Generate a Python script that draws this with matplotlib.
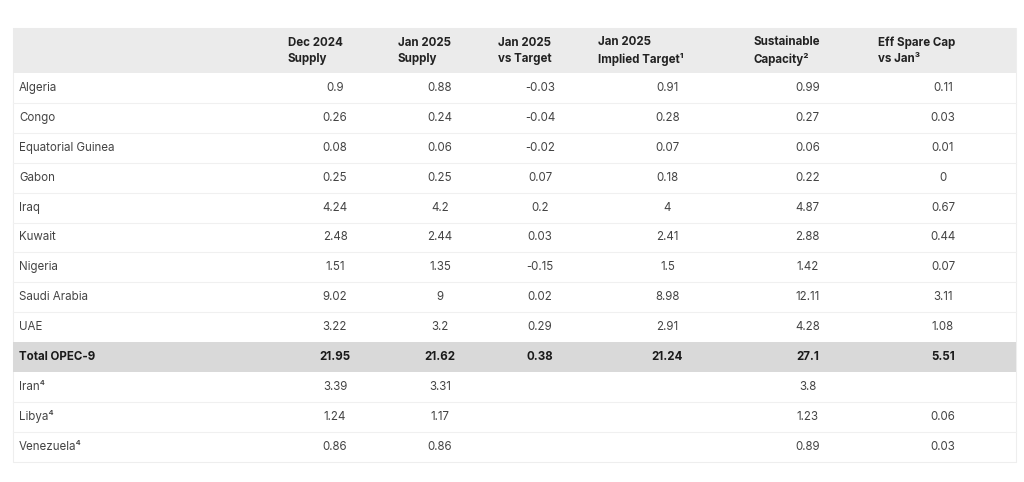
import matplotlib.pyplot as plt
from matplotlib.patches import Rectangle

plt.rcParams['font.family'] = ['Inter', 'DejaVu Sans']

headers = ["", "Dec 2024\nSupply", "Jan 2025\nSupply", "Jan 2025\nvs Target",
           "Jan 2025\nImplied Target\u00b9", "Sustainable\nCapacity\u00b2",
           "Eff Spare Cap\nvs Jan\u00b3"]

countries = ["Algeria", "Congo", "Equatorial Guinea", "Gabon", "Iraq", "Kuwait",
             "Nigeria", "Saudi Arabia", "UAE", "Total OPEC-9",
             "Iran\u2074", "Libya\u2074", "Venezuela\u2074"]
dec_2024 = ["0.9", "0.26", "0.08", "0.25", "4.24", "2.48", "1.51", "9.02", "3.22",
            "21.95", "3.39", "1.24", "0.86"]
jan_2025 = ["0.88", "0.24", "0.06", "0.25", "4.2", "2.44", "1.35", "9", "3.2",
            "21.62", "3.31", "1.17", "0.86"]
vs_target = ["-0.03", "-0.04", "-0.02", "0.07", "0.2", "0.03", "-0.15", "0.02", "0.29",
             "0.38", "", "", ""]
implied_target = ["0.91", "0.28", "0.07", "0.18", "4", "2.41", "1.5", "8.98", "2.91",
                  "21.24", "", "", ""]
sustainable = ["0.99", "0.27", "0.06", "0.22", "4.87", "2.88", "1.42", "12.11", "4.28",
               "27.1", "3.8", "1.23", "0.89"]
spare_cap = ["0.11", "0.03", "0.01", "0", "0.67", "0.44", "0.07", "3.11", "1.08",
             "5.51", "", "0.06", "0.03"]
total_row = 9

columns = [dec_2024, jan_2025, vs_target, implied_target, sustainable, spare_cap]

# column edges in pixels
edges = [13, 280, 390, 490, 590, 745, 870, 1016]
top, head_h, row_h = 28, 45, 29.9
fs = 8.3

fig = plt.figure(figsize=(10.24, 4.82), dpi=100)
ax = fig.add_axes([0, 0, 1, 1])
ax.set_xlim(0, 1024)
ax.set_ylim(482, 0)
ax.axis("off")

n = len(countries)
bottom = top + head_h + n * row_h

# faint shadow / border
ax.add_patch(Rectangle((edges[0] + 1, top + 1), edges[-1] - edges[0], bottom - top,
                       facecolor="#e9e9e9", edgecolor="none", zorder=0))
ax.add_patch(Rectangle((edges[0], top), edges[-1] - edges[0], bottom - top,
                       facecolor="white", edgecolor="#eeeeee", lw=0.8, zorder=1))

# header band
ax.add_patch(Rectangle((edges[0], top), edges[-1] - edges[0], head_h,
                       facecolor="#ebebeb", edgecolor="none", zorder=2))
for i, h in enumerate(headers):
    if h:
        ax.text(edges[i] + 8, top + head_h / 2 + 0.5, h, ha="left", va="center",
                fontsize=fs, fontweight="bold", color="#222222",
                linespacing=1.45, zorder=3)

for r in range(n):
    y0 = top + head_h + r * row_h
    yc = y0 + row_h / 2
    bold = r == total_row
    if bold:
        ax.add_patch(Rectangle((edges[0], y0), edges[-1] - edges[0], row_h,
                               facecolor="#d9d9d9", edgecolor="none", zorder=2))
    elif r > 0 and r != total_row + 1:
        ax.plot([edges[0], edges[-1]], [y0, y0], color="#f0f0f0", lw=0.8, zorder=2)
    weight = "bold" if bold else "normal"
    color = "#1a1a1a" if bold else "#444444"
    ax.text(edges[0] + 6, yc, countries[r], ha="left", va="center",
            fontsize=fs, fontweight=weight, color=color, zorder=3)
    for c, col in enumerate(columns):
        xc = (edges[c + 1] + edges[c + 2]) / 2
        ax.text(xc, yc, col[r], ha="center", va="center",
                fontsize=fs, fontweight=weight, color=color, zorder=3)

fig.savefig("out.png", dpi=100, facecolor="white")
